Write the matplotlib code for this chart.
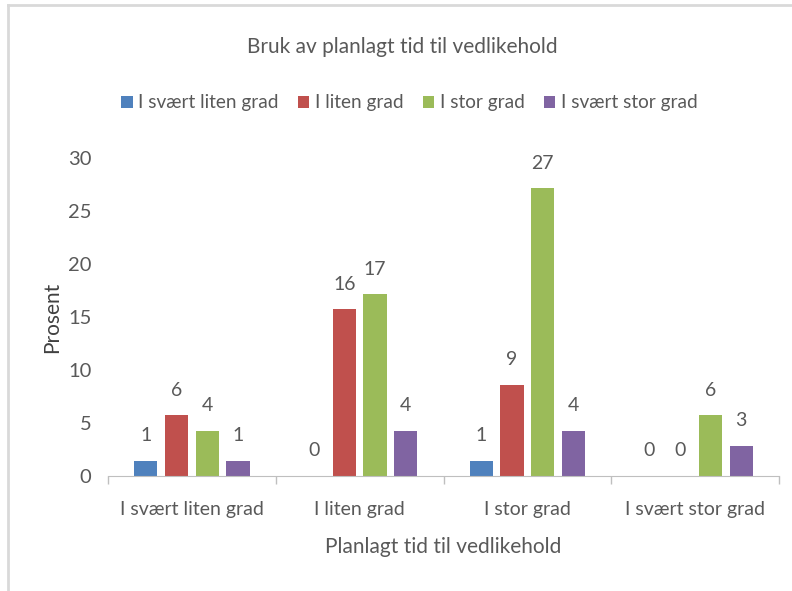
import numpy as np
import matplotlib
matplotlib.use('Agg')
import matplotlib.pyplot as plt
from matplotlib.lines import Line2D

plt.rcParams['font.family'] = ['Lato', 'DejaVu Sans']

# andel svar i prosent (n = 70)
categories = ['I svært liten grad', 'I liten grad', 'I stor grad', 'I svært stor grad']
series_names = ['I svært liten grad', 'I liten grad', 'I stor grad', 'I svært stor grad']
svaert_liten = [1.43, 0.0, 1.43, 0.0]
liten = [5.71, 15.71, 8.57, 0.0]
stor = [4.29, 17.14, 27.14, 5.71]
svaert_stor = [1.43, 4.29, 4.29, 2.86]

colors = ['#4F81BD', '#C0504D', '#9BBB59', '#8064A2']
text_col = '#595959'

fig = plt.figure(figsize=(7.92, 5.91), dpi=100)
ax = fig.add_axes([0.1364, 0.1946, 0.8472, 0.5381])

x = np.arange(len(categories))
pitch = 0.183
width = 0.138
all_series = [svaert_liten, liten, stor, svaert_stor]
for i, (vals, name) in enumerate(zip(all_series, series_names)):
    pos = x + (i - 1.5) * pitch
    bars = ax.bar(pos, vals, width, color=colors[i], label=name)
    for b, v in zip(bars, vals):
        ax.annotate(f'{v:.0f}', (b.get_x() + b.get_width() / 2, v),
                    xytext=(0, 12), textcoords='offset points',
                    ha='center', va='bottom', fontsize=14, color=text_col)

ax.set_xlim(-0.5, 3.5)
ax.set_ylim(0, 30)
ax.set_yticks([0, 5, 10, 15, 20, 25, 30])
ax.set_xticks(x)
ax.set_xticklabels(categories)
ax.set_xticks(np.arange(-0.5, 4.0, 1.0), minor=True)
ax.tick_params(axis='x', which='major', length=0, pad=18, labelsize=14, labelcolor=text_col)
ax.tick_params(axis='x', which='minor', length=6, color='#BFBFBF', width=1)
ax.tick_params(axis='y', length=0, pad=12, labelsize=14.5, labelcolor=text_col)

for s in ['top', 'right', 'left']:
    ax.spines[s].set_visible(False)
ax.spines['bottom'].set_color('#BFBFBF')

ax.set_ylabel('Prosent', fontsize=15, color='#404040', labelpad=4)
ax.set_xlabel('Planlagt tid til vedlikehold', fontsize=15, color=text_col, labelpad=14)

fig.text(0.508, 0.92, 'Bruk av planlagt tid til vedlikehold', ha='center', va='center',
         fontsize=15, color=text_col)

fig.legend(loc='center', bbox_to_anchor=(0.517, 0.826), ncol=4, frameon=False,
           fontsize=13.7, handlelength=0.6, handleheight=0.6, handletextpad=0.3,
           columnspacing=1.0, labelcolor=text_col)

# ramme rundt diagrammet
fig.add_artist(Line2D([8 / 792, 8 / 792], [0, 1 - 5 / 591], transform=fig.transFigure,
                      color='#D9D9D9', lw=2))
fig.add_artist(Line2D([8 / 792, 1], [1 - 5 / 591, 1 - 5 / 591], transform=fig.transFigure,
                      color='#D9D9D9', lw=2))

plt.savefig('out.png', dpi=100)
